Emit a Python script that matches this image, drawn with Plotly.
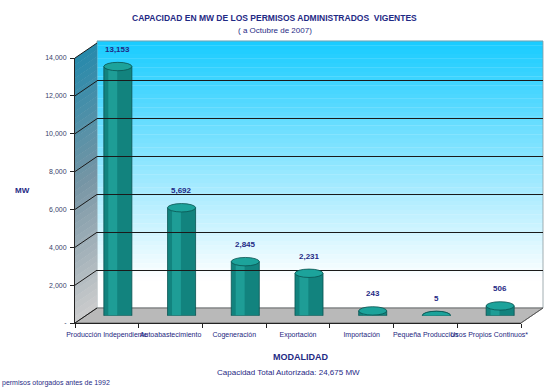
import plotly.graph_objects as go

# ---------------- data ----------------
categories = ["Producción Independiente", "Autoabastecimiento", "Cogeneración",
              "Exportación", "Importación", "Pequeña Producción",
              "Usos Propios Continuos*"]
capacity_mw = [13153, 5692, 2845, 2231, 243, 5, 506]
y_ticks = [0, 2000, 4000, 6000, 8000, 10000, 12000, 14000]
y_tick_text = ["-", "2,000", "4,000", "6,000", "8,000", "10,000", "12,000", "14,000"]
y_max = 14000

title_txt = "<b>CAPACIDAD EN MW DE LOS PERMISOS ADMINISTRADOS  VIGENTES</b>"
subtitle_txt = "( a Octubre de 2007)"
x_title = "<b>MODALIDAD</b>"
y_title = "<b>MW</b>"
total_txt = "Capacidad Total Autorizada: 24,675 MW"
foot_txt = "permisos otorgados antes de 1992"

# ---------------- geometry (pixels) ----------------
W, H = 559, 389
PL, PT, PR, PB = 75, 41, 543, 323        # plot area (union of planes)
PW, PH = PR - PL, PB - PT
DX, DY = 22, 15                           # depth offset (3D look)
FRONT_R, FRONT_T = 521, 58


def xp(px):
    return (px - PL) / PW


def yp(py):
    return (PB - py) / PH


NAVY = "#1f2a85"
FONT = "Liberation Sans, Arial, sans-serif"

fig = go.Figure()

# bars (mid-depth plane) with a lighter highlight to suggest cylinders
fig.add_trace(go.Bar(x=categories, y=capacity_mw, xaxis="x2", yaxis="y2",
                     width=0.44, marker=dict(color="#12837e",
                                             line=dict(color="#0a5350", width=0.8)),
                     hoverinfo="x+y", showlegend=False))
fig.add_trace(go.Bar(x=categories, y=capacity_mw, xaxis="x2", yaxis="y2",
                     width=0.14, offset=-0.15,
                     marker=dict(color="#1e9d96", line=dict(width=0)),
                     hoverinfo="skip", showlegend=False))
# invisible traces so the front axes and back-wall gridlines are drawn
fig.add_trace(go.Scatter(x=categories, y=[0] * len(categories), xaxis="x", yaxis="y",
                         mode="markers", marker=dict(opacity=0),
                         hoverinfo="skip", showlegend=False))
fig.add_trace(go.Scatter(x=[0, 1], y=[0, 0], xaxis="x3", yaxis="y3", mode="markers",
                         marker=dict(opacity=0), hoverinfo="skip", showlegend=False))

shapes = []

# back wall gradient
top_c = (24, 204, 255)
n = 60
y_top, y_bot = PT, PB - DY
for i in range(n):
    a = y_top + (y_bot - y_top) * i / n
    b = y_top + (y_bot - y_top) * (i + 1) / n
    t = min(1.0, (i + 0.5) / n * 1.12)
    c = tuple(int(top_c[k] + (255 - top_c[k]) * t) for k in range(3))
    shapes.append(dict(type="rect", xref="paper", yref="paper", layer="below",
                       x0=xp(PL + DX), x1=xp(PR), y0=yp(b), y1=yp(a) + 0.001,
                       fillcolor="rgb(%d,%d,%d)" % c, line=dict(width=0)))
shapes.append(dict(type="rect", xref="paper", yref="paper", layer="below",
                   x0=xp(PL + DX), x1=xp(PR), y0=yp(y_bot), y1=yp(y_top),
                   line=dict(color="#8a9aa0", width=0.8)))

# side wall gradient
s_top = (38, 138, 172)
s_mid = (120, 150, 165)
s_bot = (205, 205, 205)
ns = 40
for i in range(ns):
    fa = FRONT_T + (PB - FRONT_T) * i / ns
    fb = FRONT_T + (PB - FRONT_T) * (i + 1) / ns + 0.5
    t = (i + 0.5) / ns
    if t < 0.5:
        u = t / 0.5
        c = tuple(int(s_top[k] + (s_mid[k] - s_top[k]) * u) for k in range(3))
    else:
        u = (t - 0.5) / 0.5
        c = tuple(int(s_mid[k] + (s_bot[k] - s_mid[k]) * u) for k in range(3))
    path = "M %f %f L %f %f L %f %f L %f %f Z" % (
        xp(PL), yp(fa), xp(PL + DX), yp(fa - DY),
        xp(PL + DX), yp(fb - DY), xp(PL), yp(fb))
    shapes.append(dict(type="path", xref="paper", yref="paper", layer="below",
                       path=path, fillcolor="rgb(%d,%d,%d)" % c, line=dict(width=0)))

# floor
floor = "M %f %f L %f %f L %f %f L %f %f Z" % (
    xp(PL), yp(PB), xp(PL + DX), yp(PB - DY), xp(PR), yp(PB - DY), xp(FRONT_R), yp(PB))
shapes.append(dict(type="path", xref="paper", yref="paper", layer="below",
                   path=floor, fillcolor="#b9b9b9", line=dict(color="#555555", width=0.8)))

# diagonal grid lines on the side wall
for v in y_ticks:
    fy = PB - (PB - FRONT_T) * v / y_max
    shapes.append(dict(type="line", xref="paper", yref="paper", layer="between",
                       x0=xp(PL), y0=yp(fy), x1=xp(PL + DX), y1=yp(fy - DY),
                       line=dict(color="#1a1a1a", width=1)))
shapes.append(dict(type="line", xref="paper", yref="paper", layer="between",
                   x0=xp(FRONT_R), y0=yp(PB), x1=xp(PR), y1=yp(PB - DY),
                   line=dict(color="#555555", width=0.8)))

# cylinder ends
h = 4.2 * y_max / (PB - FRONT_T)
for i, v in enumerate(capacity_mw):
    shapes.append(dict(type="circle", xref="x2", yref="y2", layer="between",
                       x0=i - 0.22, x1=i + 0.22, y0=-h, y1=h,
                       fillcolor="#0f7773", line=dict(color="#0a5350", width=0.8)))
    shapes.append(dict(type="circle", xref="x2", yref="y2", layer="above",
                       x0=i - 0.22, x1=i + 0.22, y0=v - h, y1=v + h,
                       fillcolor="#1ca39b", line=dict(color="#0a5350", width=0.8)))

annotations = []
for cat, v in zip(categories, capacity_mw):
    annotations.append(dict(x=cat, y=v, xref="x2", yref="y2", text="<b>%s</b>" % f"{v:,}",
                            showarrow=False, yshift=17,
                            font=dict(family=FONT, size=8, color=NAVY)))


def txt(px, py, text, size, anchor="center"):
    return dict(x=xp(px), y=yp(py), xref="paper", yref="paper", yanchor="middle",
                xanchor=anchor, text=text, showarrow=False,
                font=dict(family=FONT, size=size, color=NAVY))


annotations += [
    txt(274, 18, title_txt, 8.5),
    txt(275, 30, subtitle_txt, 8),
    txt(22, 190, y_title, 8),
    txt(300, 357, x_title, 9),
    txt(288, 372, total_txt, 8),
    txt(0, 383, foot_txt, 7, "left"),
]

front_xd = [0, xp(FRONT_R)]
front_yd = [0, yp(FRONT_T)]
mid_xd = [xp(PL + DX / 2), xp(FRONT_R + DX / 2)]
mid_yd = [yp(PB - DY / 2), yp(FRONT_T - DY / 2)]
back_xd = [xp(PL + DX), 1]
back_yd = [yp(PB - DY), yp(FRONT_T - DY)]

fig.update_layout(
    width=W, height=H,
    margin=dict(l=PL, r=W - PR, t=PT, b=H - PB, pad=0, autoexpand=False),
    paper_bgcolor="white", plot_bgcolor="rgba(0,0,0,0)",
    barmode="overlay", bargap=0.3, showlegend=False,
    font=dict(family=FONT, color=NAVY),
    shapes=shapes, annotations=annotations,
    xaxis=dict(domain=front_xd, type="category", categoryorder="array",
               categoryarray=categories, range=[-0.5, 6.5], tickangle=0,
               showgrid=False, zeroline=False, showline=True,
               linecolor="#222222", linewidth=1, ticks="outside", ticklen=4,
               tickcolor="#222222", tickson="boundaries", ticklabelstandoff=5,
               tickfont=dict(family=FONT, size=7, color="#1c2680"),
               anchor="y", fixedrange=True),
    yaxis=dict(domain=front_yd, range=[0, y_max], tickvals=y_ticks, ticktext=y_tick_text,
               showgrid=False, zeroline=False, showline=True, linecolor="#222222",
               linewidth=1, ticks="outside", ticklen=4, tickcolor="#222222",
               ticklabelstandoff=2,
               tickfont=dict(family=FONT, size=7, color="#3a3f6a"),
               anchor="x", fixedrange=True),
    xaxis2=dict(domain=mid_xd, type="category", categoryorder="array",
                categoryarray=categories, range=[-0.5, 6.5], visible=False,
                anchor="y2", fixedrange=True),
    yaxis2=dict(domain=mid_yd, range=[0, y_max], visible=False,
                anchor="x2", fixedrange=True),
    xaxis3=dict(domain=back_xd, range=[0, 1], visible=False, anchor="y3",
                fixedrange=True),
    yaxis3=dict(domain=back_yd, range=[0, y_max], dtick=2000, showgrid=True,
                gridcolor="#1a1a1a", gridwidth=1, zeroline=False,
                showticklabels=False, ticks="", showline=False,
                anchor="x3", fixedrange=True),
)

fig.write_html("out.html", config={"displayModeBar": False},
               post_script="document.body.style.margin='0';"
                           "document.body.style.padding='0';")
